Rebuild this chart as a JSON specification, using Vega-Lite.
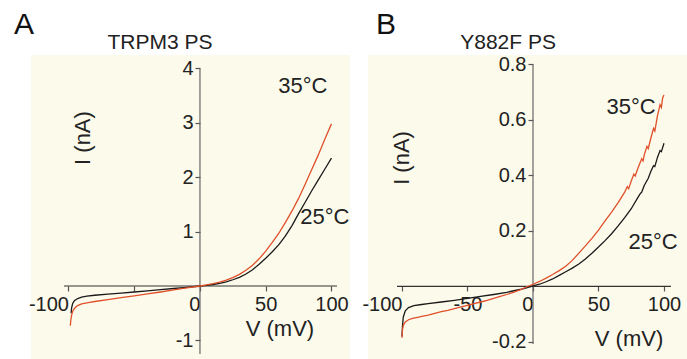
{
  "$schema": "https://vega.github.io/schema/vega-lite/v6.json",
  "padding": {"left": 14, "top": 9, "right": 0, "bottom": 0},
  "spacing": 18,
  "bounds": "flush",
  "config": {
    "view": {"fill": "#fbfaeb", "stroke": null},
    "font": "Liberation Sans",
    "axis": {
      "domain": false, "grid": false, "title": null,
      "tickColor": "#555", "tickSize": 5, "tickWidth": 1.2,
      "labelFont": "Liberation Sans", "labelFontSize": 20, "labelColor": "#222",
      "labelOverlap": false, "labelFlush": false, "labelBound": false
    },
    "text": {"font": "Liberation Sans", "fontSize": 22, "color": "#222"}
  },
  "datasets": {
    "curvesA": [
      {"temp": "25°C", "v": -98, "i": -0.5}, {"temp": "25°C", "v": -97.6, "i": -0.4}, {"temp": "25°C", "v": -96.8, "i": -0.32},
      {"temp": "25°C", "v": -95.5, "i": -0.27}, {"temp": "25°C", "v": -93, "i": -0.23}, {"temp": "25°C", "v": -90, "i": -0.205},
      {"temp": "25°C", "v": -86, "i": -0.185}, {"temp": "25°C", "v": -80, "i": -0.17}, {"temp": "25°C", "v": -70, "i": -0.15},
      {"temp": "25°C", "v": -60, "i": -0.13}, {"temp": "25°C", "v": -50, "i": -0.11}, {"temp": "25°C", "v": -40, "i": -0.09},
      {"temp": "25°C", "v": -30, "i": -0.068}, {"temp": "25°C", "v": -20, "i": -0.046}, {"temp": "25°C", "v": -10, "i": -0.024},
      {"temp": "25°C", "v": 0, "i": 0}, {"temp": "25°C", "v": 5, "i": 0.012}, {"temp": "25°C", "v": 10, "i": 0.028},
      {"temp": "25°C", "v": 15, "i": 0.05}, {"temp": "25°C", "v": 20, "i": 0.078}, {"temp": "25°C", "v": 25, "i": 0.115},
      {"temp": "25°C", "v": 30, "i": 0.16}, {"temp": "25°C", "v": 35, "i": 0.22}, {"temp": "25°C", "v": 40, "i": 0.3},
      {"temp": "25°C", "v": 45, "i": 0.4}, {"temp": "25°C", "v": 50, "i": 0.51}, {"temp": "25°C", "v": 55, "i": 0.63},
      {"temp": "25°C", "v": 60, "i": 0.76}, {"temp": "25°C", "v": 65, "i": 0.92}, {"temp": "25°C", "v": 70, "i": 1.11},
      {"temp": "25°C", "v": 75, "i": 1.33}, {"temp": "25°C", "v": 80, "i": 1.54}, {"temp": "25°C", "v": 85, "i": 1.75},
      {"temp": "25°C", "v": 90, "i": 1.95}, {"temp": "25°C", "v": 95, "i": 2.15}, {"temp": "25°C", "v": 100, "i": 2.35},
      {"temp": "35°C", "v": -98.6, "i": -0.73}, {"temp": "35°C", "v": -98.2, "i": -0.62}, {"temp": "35°C", "v": -97.5, "i": -0.52},
      {"temp": "35°C", "v": -96.5, "i": -0.45}, {"temp": "35°C", "v": -95, "i": -0.4}, {"temp": "35°C", "v": -93, "i": -0.36},
      {"temp": "35°C", "v": -90, "i": -0.33}, {"temp": "35°C", "v": -85, "i": -0.305}, {"temp": "35°C", "v": -80, "i": -0.285},
      {"temp": "35°C", "v": -70, "i": -0.25}, {"temp": "35°C", "v": -60, "i": -0.215}, {"temp": "35°C", "v": -50, "i": -0.18},
      {"temp": "35°C", "v": -40, "i": -0.145}, {"temp": "35°C", "v": -30, "i": -0.11}, {"temp": "35°C", "v": -20, "i": -0.073},
      {"temp": "35°C", "v": -10, "i": -0.036}, {"temp": "35°C", "v": 0, "i": 0}, {"temp": "35°C", "v": 5, "i": 0.02},
      {"temp": "35°C", "v": 10, "i": 0.042}, {"temp": "35°C", "v": 15, "i": 0.072}, {"temp": "35°C", "v": 20, "i": 0.11},
      {"temp": "35°C", "v": 25, "i": 0.155}, {"temp": "35°C", "v": 30, "i": 0.215}, {"temp": "35°C", "v": 35, "i": 0.29},
      {"temp": "35°C", "v": 40, "i": 0.38}, {"temp": "35°C", "v": 45, "i": 0.5}, {"temp": "35°C", "v": 50, "i": 0.64},
      {"temp": "35°C", "v": 55, "i": 0.8}, {"temp": "35°C", "v": 60, "i": 0.97}, {"temp": "35°C", "v": 65, "i": 1.17},
      {"temp": "35°C", "v": 70, "i": 1.38}, {"temp": "35°C", "v": 75, "i": 1.61}, {"temp": "35°C", "v": 80, "i": 1.87},
      {"temp": "35°C", "v": 85, "i": 2.14}, {"temp": "35°C", "v": 90, "i": 2.41}, {"temp": "35°C", "v": 95, "i": 2.7},
      {"temp": "35°C", "v": 100, "i": 2.98}
    ],
    "curvesB": [
      {"temp": "25°C", "v": -100, "i": -0.18}, {"temp": "25°C", "v": -99.6, "i": -0.14}, {"temp": "25°C", "v": -99, "i": -0.11},
      {"temp": "25°C", "v": -97.5, "i": -0.088}, {"temp": "25°C", "v": -95, "i": -0.076}, {"temp": "25°C", "v": -91, "i": -0.069},
      {"temp": "25°C", "v": -85, "i": -0.065}, {"temp": "25°C", "v": -80, "i": -0.062}, {"temp": "25°C", "v": -70, "i": -0.056},
      {"temp": "25°C", "v": -60, "i": -0.05}, {"temp": "25°C", "v": -50, "i": -0.043}, {"temp": "25°C", "v": -40, "i": -0.036},
      {"temp": "25°C", "v": -30, "i": -0.029}, {"temp": "25°C", "v": -20, "i": -0.021}, {"temp": "25°C", "v": -10, "i": -0.011},
      {"temp": "25°C", "v": -5, "i": -0.005}, {"temp": "25°C", "v": 0, "i": 0.002}, {"temp": "25°C", "v": 5, "i": 0.008},
      {"temp": "25°C", "v": 10, "i": 0.017}, {"temp": "25°C", "v": 15, "i": 0.027}, {"temp": "25°C", "v": 20, "i": 0.04},
      {"temp": "25°C", "v": 25, "i": 0.053}, {"temp": "25°C", "v": 30, "i": 0.066}, {"temp": "25°C", "v": 35, "i": 0.081},
      {"temp": "25°C", "v": 40, "i": 0.099}, {"temp": "25°C", "v": 45, "i": 0.12}, {"temp": "25°C", "v": 50, "i": 0.142},
      {"temp": "25°C", "v": 55, "i": 0.165}, {"temp": "25°C", "v": 60, "i": 0.19}, {"temp": "25°C", "v": 65, "i": 0.218},
      {"temp": "25°C", "v": 70, "i": 0.248}, {"temp": "25°C", "v": 75, "i": 0.28}, {"temp": "25°C", "v": 80, "i": 0.32},
      {"temp": "25°C", "v": 82, "i": 0.335}, {"temp": "25°C", "v": 83, "i": 0.34}, {"temp": "25°C", "v": 85, "i": 0.365},
      {"temp": "25°C", "v": 88, "i": 0.39}, {"temp": "25°C", "v": 90, "i": 0.415}, {"temp": "25°C", "v": 92, "i": 0.435},
      {"temp": "25°C", "v": 93, "i": 0.432}, {"temp": "25°C", "v": 95, "i": 0.465}, {"temp": "25°C", "v": 97, "i": 0.49},
      {"temp": "25°C", "v": 98, "i": 0.486}, {"temp": "25°C", "v": 100, "i": 0.516},
      {"temp": "35°C", "v": -100, "i": -0.185}, {"temp": "35°C", "v": -99.6, "i": -0.155}, {"temp": "35°C", "v": -99, "i": -0.14},
      {"temp": "35°C", "v": -97.5, "i": -0.128}, {"temp": "35°C", "v": -95, "i": -0.12}, {"temp": "35°C", "v": -92, "i": -0.115},
      {"temp": "35°C", "v": -88, "i": -0.111}, {"temp": "35°C", "v": -85, "i": -0.108}, {"temp": "35°C", "v": -80, "i": -0.103},
      {"temp": "35°C", "v": -75, "i": -0.097}, {"temp": "35°C", "v": -70, "i": -0.091}, {"temp": "35°C", "v": -65, "i": -0.086},
      {"temp": "35°C", "v": -60, "i": -0.08}, {"temp": "35°C", "v": -55, "i": -0.074}, {"temp": "35°C", "v": -50, "i": -0.068},
      {"temp": "35°C", "v": -45, "i": -0.062}, {"temp": "35°C", "v": -40, "i": -0.056}, {"temp": "35°C", "v": -35, "i": -0.05},
      {"temp": "35°C", "v": -30, "i": -0.043}, {"temp": "35°C", "v": -25, "i": -0.036}, {"temp": "35°C", "v": -20, "i": -0.029},
      {"temp": "35°C", "v": -15, "i": -0.021}, {"temp": "35°C", "v": -10, "i": -0.012}, {"temp": "35°C", "v": -5, "i": -0.002},
      {"temp": "35°C", "v": 0, "i": 0.008}, {"temp": "35°C", "v": 5, "i": 0.018}, {"temp": "35°C", "v": 10, "i": 0.03},
      {"temp": "35°C", "v": 15, "i": 0.043}, {"temp": "35°C", "v": 20, "i": 0.057}, {"temp": "35°C", "v": 25, "i": 0.073},
      {"temp": "35°C", "v": 30, "i": 0.094}, {"temp": "35°C", "v": 35, "i": 0.12}, {"temp": "35°C", "v": 40, "i": 0.146},
      {"temp": "35°C", "v": 45, "i": 0.173}, {"temp": "35°C", "v": 50, "i": 0.203}, {"temp": "35°C", "v": 55, "i": 0.236},
      {"temp": "35°C", "v": 60, "i": 0.268}, {"temp": "35°C", "v": 65, "i": 0.302}, {"temp": "35°C", "v": 70, "i": 0.34},
      {"temp": "35°C", "v": 72, "i": 0.36}, {"temp": "35°C", "v": 73, "i": 0.352}, {"temp": "35°C", "v": 75, "i": 0.38},
      {"temp": "35°C", "v": 77, "i": 0.405}, {"temp": "35°C", "v": 78, "i": 0.398}, {"temp": "35°C", "v": 80, "i": 0.425},
      {"temp": "35°C", "v": 83, "i": 0.46}, {"temp": "35°C", "v": 84, "i": 0.452}, {"temp": "35°C", "v": 85, "i": 0.475},
      {"temp": "35°C", "v": 87, "i": 0.505}, {"temp": "35°C", "v": 88, "i": 0.497}, {"temp": "35°C", "v": 90, "i": 0.535},
      {"temp": "35°C", "v": 92, "i": 0.57}, {"temp": "35°C", "v": 93, "i": 0.56}, {"temp": "35°C", "v": 95, "i": 0.615},
      {"temp": "35°C", "v": 97, "i": 0.655}, {"temp": "35°C", "v": 98, "i": 0.645}, {"temp": "35°C", "v": 99, "i": 0.68},
      {"temp": "35°C", "v": 100, "i": 0.69}
    ]
  },
  "hconcat": [
    {
      "width": 319,
      "height": 305,
      "encoding": {
        "x": {
          "field": "v", "type": "quantitative",
          "scale": {"domain": [-128.5, 114.1], "nice": false, "zero": false},
          "axis": {
            "orient": "bottom", "offset": -74, "values": [-100, -50, 0, 50, 100],
            "labelPadding": 3,
            "labelExpr": "datum.value == -50 ? '' : (datum.value < 0 ? '-' + (-datum.value) : '' + datum.value)",
            "labelAlign": {"condition": {"test": "datum.value == -100 || datum.value == 0", "value": "right"}, "value": "center"}
          }
        },
        "y": {
          "field": "i", "type": "quantitative",
          "scale": {"domain": [-1.36, 4.246], "nice": false, "zero": false},
          "axis": {
            "orient": "left", "offset": -169, "values": [-1, 0, 1, 2, 3, 4],
            "labelPadding": 2,
            "labelExpr": "datum.value == 0 ? '' : (datum.value < 0 ? '-' + (-datum.value) : '' + datum.value)"
          }
        }
      },
      "layer": [
        {
          "data": {"values": [{"v": -103.4, "v2": 104.2, "i": 0}]},
          "mark": {"type": "rule", "color": "#333", "strokeWidth": 1.2},
          "encoding": {"x2": {"field": "v2"}}
        },
        {
          "data": {"values": [{"v": 0, "i": -1.25, "i2": 4}]},
          "mark": {"type": "rule", "color": "#666", "strokeWidth": 1.2},
          "encoding": {"y2": {"field": "i2"}}
        },
        {
          "data": {"name": "curvesA"},
          "mark": {"type": "line", "strokeWidth": 1.3},
          "encoding": {
            "color": {"field": "temp", "type": "nominal", "scale": {"domain": ["25°C", "35°C"], "range": ["#1a1a1a", "#e0502a"]}, "legend": null}
          }
        },
        {
          "data": {"values": [
            {"label": "35°C", "v": 78.3, "i": 3.68},
            {"label": "25°C", "v": 95, "i": 1.27},
            {"label": "V (mV)", "v": 60.8, "i": -0.79}
          ]},
          "mark": {"type": "text"},
          "encoding": {"text": {"field": "label"}}
        },
        {
          "data": {"values": [{"label": "I (nA)", "v": -89, "i": 2.72}]},
          "mark": {"type": "text", "angle": 270},
          "encoding": {"text": {"field": "label"}}
        },
        {
          "data": {"values": [{"label": "TRPM3 PS", "v": -30.4, "i": 4.46}]},
          "mark": {"type": "text", "fontSize": 21},
          "encoding": {"text": {"field": "label"}}
        },
        {
          "data": {"values": [{"label": "A", "v": -133.8, "i": 4.8}]},
          "mark": {"type": "text", "fontSize": 30, "color": "#111"},
          "encoding": {"text": {"field": "label"}}
        }
      ]
    },
    {
      "width": 319,
      "height": 305,
      "encoding": {
        "x": {
          "field": "v", "type": "quantitative",
          "scale": {"domain": [-125.95, 117.56], "nice": false, "zero": false},
          "axis": {
            "orient": "bottom", "offset": -74, "values": [-100, -50, 0, 50, 100],
            "labelPadding": 3,
            "labelExpr": "datum.value < 0 ? '-' + (-datum.value) : '' + datum.value",
            "labelAlign": {"condition": {"test": "datum.value == -100 || datum.value == 0", "value": "right"}, "value": "center"}
          }
        },
        "y": {
          "field": "i", "type": "quantitative",
          "scale": {"domain": [-0.265, 0.834], "nice": false, "zero": false},
          "axis": {
            "orient": "left", "offset": -165, "values": [-0.2, 0, 0.2, 0.4, 0.6, 0.8],
            "labelPadding": 2,
            "labelExpr": "datum.value == 0 ? '' : (datum.value < 0 ? '-' + format(-datum.value, '.1f') : format(datum.value, '.1f'))"
          }
        }
      },
      "layer": [
        {
          "data": {"values": [{"v": -103.8, "v2": 105.3, "i": 0}]},
          "mark": {"type": "rule", "color": "#333", "strokeWidth": 1.2},
          "encoding": {"x2": {"field": "v2"}}
        },
        {
          "data": {"values": [{"v": 0, "i": -0.207, "i2": 0.8}]},
          "mark": {"type": "rule", "color": "#666", "strokeWidth": 1.2},
          "encoding": {"y2": {"field": "i2"}}
        },
        {
          "data": {"name": "curvesB"},
          "mark": {"type": "line", "strokeWidth": 1.3},
          "encoding": {
            "color": {"field": "temp", "type": "nominal", "scale": {"domain": ["25°C", "35°C"], "range": ["#1a1a1a", "#e0502a"]}, "legend": null}
          }
        },
        {
          "data": {"values": [
            {"label": "35°C", "v": 74.8, "i": 0.647},
            {"label": "25°C", "v": 91.6, "i": 0.16},
            {"label": "V (mV)", "v": 73.3, "i": -0.189}
          ]},
          "mark": {"type": "text"},
          "encoding": {"text": {"field": "label"}}
        },
        {
          "data": {"values": [{"label": "I (nA)", "v": -100, "i": 0.463}]},
          "mark": {"type": "text", "angle": 270},
          "encoding": {"text": {"field": "label"}}
        },
        {
          "data": {"values": [{"label": "Y882F PS", "v": -19, "i": 0.876}]},
          "mark": {"type": "text", "fontSize": 21},
          "encoding": {"text": {"field": "label"}}
        },
        {
          "data": {"values": [{"label": "B", "v": -112.2, "i": 0.942}]},
          "mark": {"type": "text", "fontSize": 30, "color": "#111"},
          "encoding": {"text": {"field": "label"}}
        }
      ]
    }
  ]
}
